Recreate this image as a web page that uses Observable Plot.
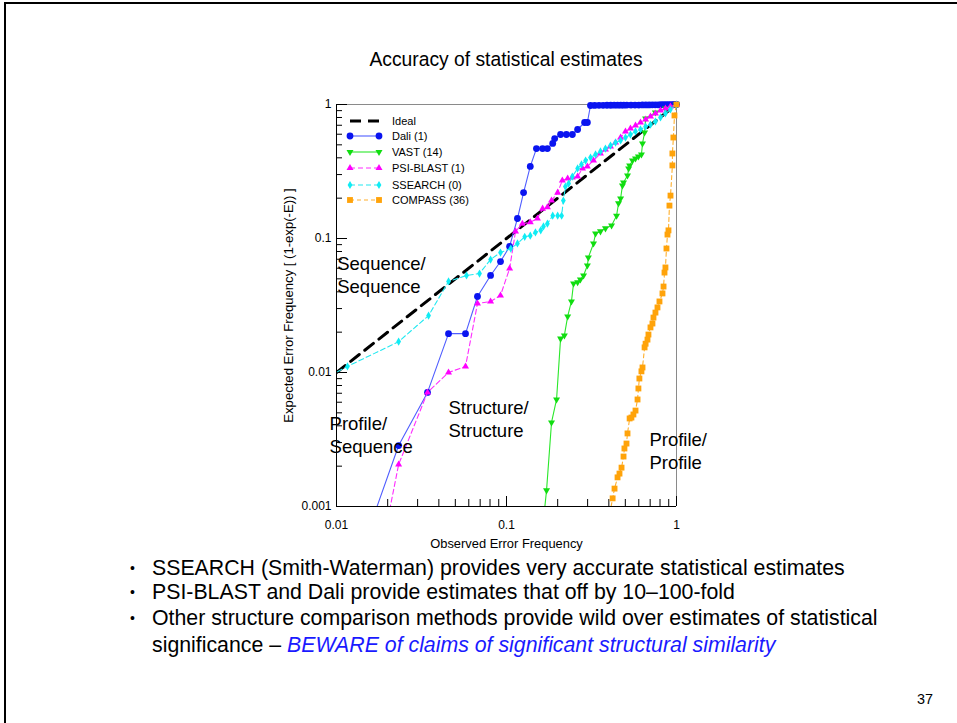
<!DOCTYPE html>
<html><head><meta charset="utf-8">
<script src="https://cdn.jsdelivr.net/npm/d3@7"></script>
<script src="https://cdn.jsdelivr.net/npm/@observablehq/plot@0.6"></script>
<style>
body{margin:0;background:#fff;font-family:"Liberation Sans",Arial,Helvetica,sans-serif;}
#slide{position:relative;width:957px;height:723px;overflow:hidden;background:#fff}
#border{position:absolute;left:4px;top:2px;width:980px;height:760px;border-left:2px solid #000;border-top:2px solid #000;box-sizing:border-box}
#title{position:absolute;left:306px;width:400px;top:49px;line-height:22px;font-size:19.3px;text-align:center;color:#000}
#chart{position:absolute;left:0;top:0}
#legend{position:absolute;left:0;top:0;pointer-events:none}
.bl{position:absolute;left:152px;font-size:21.3px;line-height:24px;color:#000;white-space:nowrap}
.bu{position:absolute;left:130px;font-size:14px;line-height:24px;color:#000}
.blue{color:#1a1aff;font-style:italic}
#page{position:absolute;left:917px;top:691px;font-size:14.4px;line-height:16px}
</style></head>
<body>
<div id="slide">
  <div id="border"></div>
  <div id="title">Accuracy of statistical estimates</div>
  <div id="chart"></div>
  <svg id="legend" width="957" height="723"></svg>
  <div class="bu" style="top:556px">•</div><div class="bl" style="top:556px">SSEARCH (Smith-Waterman) provides very accurate statistical estimates</div>
  <div class="bu" style="top:580px">•</div><div class="bl" style="top:580px">PSI-BLAST and Dali provide estimates that off by 10–100-fold</div>
  <div class="bu" style="top:606px">•</div><div class="bl" style="top:606px">Other structure comparison methods provide wild over estimates of statistical</div>
  <div class="bl" style="top:633px">significance – <span class="blue">BEWARE of claims of significant structural similarity</span></div>
  <div id="page">37</div>
</div>
<script>
// ---- data ----
const idealX = [0.01, 1];
const idealY = [0.01, 1];

const daliX = [0.0158, 0.0232, 0.0343, 0.0456, 0.0574, 0.0675, 0.0806, 0.0922, 0.1043, 0.116, 0.126, 0.138, 0.150, 0.163, 0.174, 0.187, 0.192, 0.208, 0.225, 0.244, 0.262, 0.288, 0.299, 0.312,
  0.33, 0.35, 0.37, 0.39, 0.41, 0.43, 0.45, 0.47, 0.49, 0.51, 0.54, 0.57, 0.60, 0.63, 0.66, 0.69, 0.72, 0.75, 0.78, 0.81, 0.84, 0.87, 0.90, 0.93, 0.96, 0.98, 1.0];
const daliY = [0.00072, 0.00285, 0.0071, 0.0195, 0.0195, 0.0369, 0.0530, 0.0673, 0.0872, 0.141, 0.220, 0.345, 0.469, 0.469, 0.469, 0.512, 0.557, 0.597, 0.597, 0.597, 0.651, 0.734, 0.734, 0.983,
  0.985, 0.986, 0.986, 0.987, 0.987, 0.988, 0.988, 0.989, 0.989, 0.990, 0.990, 0.991, 0.991, 0.992, 0.992, 0.993, 0.994, 0.994, 0.995, 0.996, 0.996, 0.997, 0.998, 0.998, 0.999, 1.0, 1.0];

const vastX = [0.165, 0.172, 0.184, 0.197, 0.208, 0.219, 0.229, 0.241, 0.248, 0.262, 0.272, 0.284, 0.299, 0.303, 0.325, 0.334, 0.357, 0.382, 0.415, 0.444, 0.456, 0.469, 0.481, 0.488, 0.515, 0.523, 0.530, 0.551, 0.574, 0.597, 0.622, 0.631, 0.649, 0.658, 0.751, 0.861, 1.0];
const vastY = [0.00079, 0.00132, 0.00424, 0.00629, 0.0179, 0.0189, 0.0262, 0.0339, 0.0462, 0.0472, 0.0494, 0.0530, 0.0629, 0.0722, 0.0918, 0.109, 0.113, 0.119, 0.125, 0.148, 0.183, 0.199, 0.249, 0.262, 0.295, 0.333, 0.351, 0.382, 0.395, 0.409, 0.424, 0.512, 0.618, 0.787, 0.871, 0.934, 1.0];

const psiX = [0.0197, 0.0232, 0.0343, 0.0456, 0.0574, 0.0675, 0.0806, 0.0922, 0.1043, 0.113, 0.124, 0.138, 0.152, 0.163, 0.174, 0.184, 0.200, 0.213, 0.229, 0.244, 0.262, 0.280, 0.299, 0.325, 0.357, 0.382, 0.409, 0.438, 0.469, 0.501, 0.536, 0.574, 0.614, 0.658, 0.703, 0.752, 0.805, 0.861, 0.921, 1.0];
const psiY = [0.00072, 0.00206, 0.0071, 0.0100, 0.0111, 0.0327, 0.0339, 0.0376, 0.0597, 0.113, 0.129, 0.132, 0.141, 0.167, 0.171, 0.192, 0.220, 0.271, 0.280, 0.285, 0.290, 0.333, 0.345, 0.382, 0.431, 0.462, 0.486, 0.520, 0.567, 0.629, 0.662, 0.697, 0.734, 0.773, 0.813, 0.857, 0.902, 0.934, 0.966, 1.0];

const ssearchX = [0.00922, 0.0116, 0.0232, 0.0348, 0.0456, 0.0582, 0.0694, 0.0806, 0.0922, 0.106, 0.116, 0.128, 0.138, 0.148, 0.159, 0.165, 0.174, 0.187, 0.200, 0.211, 0.216, 0.222, 0.232, 0.244, 0.262, 0.276, 0.292, 0.312, 0.334, 0.357, 0.382, 0.409, 0.438, 0.469, 0.501, 0.536, 0.574, 0.614, 0.658, 0.703, 0.752, 0.805, 0.861, 0.921, 1.0];
const ssearchY = [0.0095, 0.0111, 0.0170, 0.0266, 0.0478, 0.0530, 0.0548, 0.0697, 0.0786, 0.0842, 0.0918, 0.103, 0.105, 0.111, 0.115, 0.123, 0.129, 0.148, 0.148, 0.148, 0.192, 0.244, 0.257, 0.290, 0.333, 0.357, 0.382, 0.402, 0.424, 0.446, 0.469, 0.494, 0.520, 0.539, 0.567, 0.597, 0.629, 0.651, 0.685, 0.709, 0.747, 0.800, 0.857, 0.918, 1.0];

const compassX = [0.398, 0.421, 0.432, 0.450, 0.462, 0.475, 0.488, 0.494, 0.508, 0.515, 0.530, 0.543, 0.558, 0.574, 0.590, 0.597, 0.605, 0.622, 0.631, 0.649, 0.658, 0.675, 0.684, 0.703, 0.722, 0.732, 0.752, 0.773, 0.794, 0.827, 0.839, 0.850, 0.861, 0.873, 0.885, 0.897, 0.909, 0.922, 0.946, 0.946, 0.959, 0.973, 1.0];
const compassY = [0.00079, 0.00115, 0.00136, 0.00165, 0.00176, 0.00195, 0.00236, 0.00271, 0.00295, 0.00351, 0.00454, 0.00461, 0.00486, 0.00520, 0.00629, 0.00760, 0.00902, 0.0102, 0.0109, 0.0154, 0.0164, 0.0176, 0.0192, 0.0217, 0.0232, 0.0257, 0.0280, 0.0306, 0.0339, 0.0389, 0.0438, 0.0557, 0.0608, 0.0842, 0.107, 0.115, 0.176, 0.209, 0.351, 0.431, 0.567, 0.828, 1.0];

const seriesNames = ["Ideal", "Dali (1)", "VAST (14)", "PSI-BLAST (1)", "SSEARCH (0)", "COMPASS (36)"];

const xMajor = [0.01, 0.1, 1];
const xMajorLabels = ["0.01", "0.1", "1"];
const yMajor = [0.001, 0.01, 0.1, 1];
const yMajorLabels = ["0.001", "0.01", "0.1", "1"];
const minorMult = [2, 3, 4, 5, 6, 7, 8, 9];

const annoText = ["Sequence/\nSequence", "Profile/\nSequence", "Structure/\nStructure", "Profile/\nProfile"];
const annoX = [0.0101, 0.0091, 0.0456, 0.693];
const annoY = [0.0543, 0.00348, 0.00457, 0.00264];

const xTitle = "Observed Error Frequency";
const yTitle = "Expected Error Frequency [ (1-exp(-E)) ]";

// ---- build ----
const zip = (xs, ys) => xs.map((x, i) => ({x, y: ys[i]}));
const inDom = d => d.x >= 0.01 && d.x <= 1 && d.y >= 0.001 && d.y <= 1;
const styles = [
  {name: seriesNames[0], data: zip(idealX, idealY), line: "#000", width: 3, dash: "11,7", symbol: null},
  {name: seriesNames[1], data: zip(daliX, daliY), line: "#4f5dff", width: 1.1, dash: null, symbol: "circle", fill: "#0a14f0", r: 3.4, rotate: 0},
  {name: seriesNames[2], data: zip(vastX, vastY), line: "#2ae82a", width: 1.1, dash: null, symbol: "triangle", fill: "#10dd10", r: 2.6, rotate: 180},
  {name: seriesNames[3], data: zip(psiX, psiY), line: "#ff2cff", width: 1.1, dash: "5,3", symbol: "triangle", fill: "#ff00ff", r: 2.6, rotate: 0},
  {name: seriesNames[4], data: zip(ssearchX, ssearchY), line: "#22e8f0", width: 1.1, dash: "5,3", symbol: "diamond", fill: "#10ecf4", r: 2.5, rotate: 0},
  {name: seriesNames[5], data: zip(compassX, compassY), line: "#ffb02e", width: 1.1, dash: "4,3", symbol: "square", fill: "#ffa30a", r: 3.3, rotate: 0}
];

const xMinor = [0.01, 0.1].flatMap(b => minorMult.map(m => b * m));
const yMinor = [0.001, 0.01, 0.1].flatMap(b => minorMult.map(m => b * m));

const W = 957, H = 560;
const mL = 336, mR = 281, mT = 104, mB = 54;
const fw = W - mL - mR, fh = H - mT - mB;
const font = "Liberation Sans, Arial, Helvetica, sans-serif";

const marks = [
  Plot.ruleY([1], {stroke: "#8a8a8a"}),
  Plot.ruleX([1], {stroke: "#8a8a8a"}),
  Plot.tickX(xMajor, {x: d => d, insetTop: fh - 10, stroke: "#000"}),
  Plot.tickX(xMinor, {x: d => d, insetTop: fh - 7, stroke: "#000"}),
  Plot.tickY(yMajor, {y: d => d, insetRight: fw - 11, stroke: "#000"}),
  Plot.tickY(yMinor, {y: d => d, insetRight: fw - 6, stroke: "#000"}),
  Plot.ruleX([0.01], {stroke: "#000"}),
  Plot.ruleY([0.001], {stroke: "#000"}),
  Plot.text(xMajor, {x: d => d, text: (d, i) => xMajorLabels[i], frameAnchor: "bottom", dy: 19, lineAnchor: "middle", fontSize: 12, fill: "#000"}),
  Plot.text(yMajor, {y: d => d, text: (d, i) => yMajorLabels[i], frameAnchor: "left", dx: -5, textAnchor: "end", lineAnchor: "middle", fontSize: 12, fill: "#000"}),
  Plot.text([xTitle], {text: d => d, frameAnchor: "bottom", dy: 37, textAnchor: "middle", lineAnchor: "middle", fontSize: 12.9, fill: "#000"}),
  Plot.text([yTitle], {text: d => d, frameAnchor: "left", dx: -48, rotate: -90, textAnchor: "middle", lineAnchor: "middle", fontSize: 13.1, fill: "#000"})
];
for (const s of styles) {
  marks.push(Plot.line(s.data, {x: "x", y: "y", stroke: s.line, strokeWidth: s.width, strokeDasharray: s.dash, clip: true}));
  if (s.symbol) marks.push(Plot.dot(s.data.filter(inDom), {x: "x", y: "y", symbol: s.symbol, fill: s.fill, r: s.r, rotate: s.rotate, stroke: "none"}));
}
marks.push(Plot.text(annoText, {x: (d, i) => annoX[i], y: (d, i) => annoY[i], text: d => d, textAnchor: "start", lineAnchor: "middle", lineHeight: 1.25, fontSize: 18.5, fill: "#000"}));

const plot = Plot.plot({
  width: W, height: H,
  marginLeft: mL, marginRight: mR, marginTop: mT, marginBottom: mB,
  style: {fontFamily: font, background: "transparent", overflow: "visible"},
  x: {type: "log", domain: [0.01, 1], axis: null},
  y: {type: "log", domain: [0.001, 1], axis: null},
  marks
});
document.getElementById("chart").appendChild(plot);

// ---- legend ----
const lg = d3.select("#legend");
const rowY = [121, 136, 152, 168, 185, 200];
const symType = {circle: d3.symbolCircle, triangle: d3.symbolTriangle, diamond: d3.symbolDiamond, square: d3.symbolSquare};
styles.forEach((s, i) => {
  const y = rowY[i];
  lg.append("line").attr("x1", 350).attr("x2", 379).attr("y1", y).attr("y2", y)
    .attr("stroke", s.line).attr("stroke-width", s.width).attr("stroke-dasharray", s.dash);
  if (s.symbol) {
    const path = d3.symbol(symType[s.symbol], Math.PI * s.r * s.r)();
    [350, 379].forEach(x => lg.append("path").attr("d", path).attr("fill", s.fill)
      .attr("transform", `translate(${x},${y}) rotate(${s.rotate})`));
  }
  lg.append("text").attr("x", 392).attr("y", y).attr("dy", "0.36em").attr("font-size", 11)
    .attr("font-family", font).attr("fill", "#000").text(s.name);
});
</script>
</body></html>
